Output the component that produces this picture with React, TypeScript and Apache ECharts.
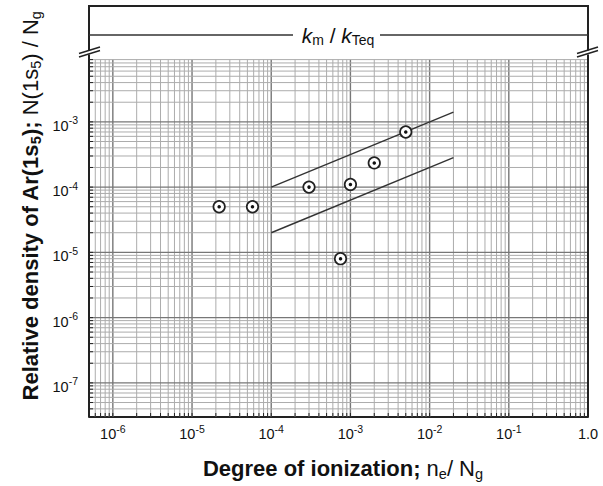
import { useEffect, useRef } from 'react';
import * as echarts from 'echarts';

const FONT = '"Liberation Sans", Arial, Helvetica, sans-serif';

// Axis ranges (log scales)
const xRange = [5e-7, 1];
const yRange = [3e-8, 9e-3];
const xDecades = [-7, -6, -5, -4, -3, -2, -1];
const yDecades = [-8, -7, -6, -5, -4, -3];
const multipliers = [1, 2, 3, 4, 5, 6, 7, 8, 9];

// Measured points: degree of ionization vs relative density of Ar(1s5)
const pointX = [2.2e-5, 5.8e-5, 3.0e-4, 1.0e-3, 2.0e-3, 5.0e-3, 7.5e-4];
const pointY = [5.0e-5, 5.0e-5, 1.0e-4, 1.1e-4, 2.35e-4, 7.0e-4, 8.0e-6];

// Boundary lines
const upperLineX = [1e-4, 2e-2];
const upperLineY = [1e-4, 1.41e-3];
const lowerLineX = [1e-4, 2e-2];
const lowerLineY = [2e-5, 2.83e-4];

const boxLabel = '{i|k}{s|m} / {i|k}{s|Teq}';
const xTitle = '{b|Degree of ionization;} n{s|e}/ N{s|g}';
const yTitle = '{b|Relative density of Ar(1s}{bs|5}{b|);} N(1s{s|5}) / N{s|g}';

function gridValues(decades: number[], range: number[], includeMax: boolean) {
  const out: number[][] = [];
  decades.forEach((d) => {
    multipliers.forEach((m) => {
      const v = m * Math.pow(10, d);
      const okMin = v > range[0] * 1.001;
      const okMax = includeMax ? v <= range[1] * 1.001 : v < range[1] * 0.999;
      if (okMin && okMax) out.push([v, m === 1 ? 1 : 0]);
    });
  });
  return out;
}

function powLabel(v: number) {
  const e = Math.log10(v);
  const r = Math.round(e);
  if (Math.abs(e - r) > 1e-6) return '';
  if (r === 0) return '{b|1.0}';
  return '{b|10}{sup|' + r + '}';
}

const MINOR = '#acacac';
const MAJOR = '#777777';
const FRAME = '#222';

export default function App() {
  const ref = useRef<HTMLDivElement>(null);
  useEffect(() => {
    if (!ref.current) return;
    const chart = echarts.init(ref.current, undefined, { renderer: 'svg' });
    const vLines = gridValues(xDecades, xRange, false).map((p) => [p[0], yRange[0], p[1]]);
    const hLines = gridValues(yDecades, yRange, true).map((p) => [xRange[0], p[0], p[1]]);

    const labelRich = {
      b: { fontSize: 14.5, lineHeight: 22, fontFamily: FONT, color: '#111' },
      sup: { fontSize: 10.5, lineHeight: 10, verticalAlign: 'top', fontFamily: FONT, color: '#111' },
    };

    const lineEl = (x1: number, y1: number, x2: number, y2: number, w = 2, c = FRAME) => ({
      type: 'line',
      z: 100,
      silent: true,
      shape: { x1, y1, x2, y2 },
      style: { stroke: c, lineWidth: w },
    });

    const option: any = {
      animation: false,
      backgroundColor: '#fff',
      grid: { left: 89, right: 15, top: 59.6, bottom: 69, containLabel: false, outerBoundsMode: 'none' },
      xAxis: {
        type: 'log',
        logBase: 10,
        min: xRange[0],
        max: xRange[1],
        splitLine: { show: false },
        minorSplitLine: { show: false },
        axisTick: { show: false },
        axisLine: { show: true, lineStyle: { color: FRAME, width: 2 } },
        axisLabel: {
          formatter: powLabel,
          rich: labelRich,
          fontSize: 14.5,
          lineHeight: 22,
          fontFamily: FONT,
          color: '#111',
          margin: 6,
          showMinLabel: true,
          showMaxLabel: true,
        },
      },
      yAxis: {
        type: 'log',
        logBase: 10,
        min: yRange[0],
        max: yRange[1],
        splitLine: { show: false },
        minorSplitLine: { show: false },
        axisTick: { show: false },
        axisLine: { show: false },
        axisLabel: {
          formatter: powLabel,
          rich: labelRich,
          fontSize: 14.5,
          lineHeight: 22,
          padding: [8, 0, 0, 0],
          fontFamily: FONT,
          color: '#111',
          margin: 11,
        },
      },
      series: [
        {
          type: 'custom',
          silent: true,
          z: 1,
          data: vLines,
          renderItem: (_p: any, api: any) => {
            const v = api.value(0);
            const major = api.value(2) === 1;
            const top = api.coord([v, yRange[1]]);
            const bot = api.coord([v, yRange[0]]);
            return {
              type: 'group',
              children: [
                {
                  type: 'line',
                  shape: { x1: top[0], y1: top[1], x2: bot[0], y2: bot[1] },
                  style: { stroke: major ? MAJOR : MINOR, lineWidth: major ? 1.4 : 1 },
                },
                {
                  type: 'line',
                  shape: { x1: bot[0], y1: bot[1], x2: bot[0], y2: bot[1] - 4 },
                  style: { stroke: FRAME, lineWidth: 1 },
                },
              ],
            };
          },
        },
        {
          type: 'custom',
          silent: true,
          z: 1,
          data: hLines,
          renderItem: (_p: any, api: any) => {
            const v = api.value(1);
            const major = api.value(2) === 1;
            const l = api.coord([xRange[0], v]);
            const r = api.coord([xRange[1], v]);
            return {
              type: 'group',
              children: [
                {
                  type: 'line',
                  shape: { x1: l[0], y1: l[1], x2: r[0], y2: r[1] },
                  style: { stroke: major ? MAJOR : MINOR, lineWidth: major ? 1.4 : 1 },
                },
                {
                  type: 'line',
                  shape: { x1: l[0], y1: l[1], x2: l[0] + 4, y2: l[1] },
                  style: { stroke: FRAME, lineWidth: 1 },
                },
              ],
            };
          },
        },
        {
          type: 'line',
          silent: true,
          z: 3,
          symbol: 'none',
          data: upperLineX.map((x, i) => [x, upperLineY[i]]),
          lineStyle: { color: '#333', width: 1.4 },
        },
        {
          type: 'line',
          silent: true,
          z: 3,
          symbol: 'none',
          data: lowerLineX.map((x, i) => [x, lowerLineY[i]]),
          lineStyle: { color: '#333', width: 1.4 },
        },
        {
          type: 'scatter',
          silent: true,
          z: 4,
          symbol: 'circle',
          symbolSize: 11.5,
          data: pointX.map((x, i) => [x, pointY[i]]),
          itemStyle: { color: '#fff', borderColor: '#222', borderWidth: 1.7, opacity: 1 },
        },
        {
          type: 'scatter',
          silent: true,
          z: 5,
          symbol: 'circle',
          symbolSize: 3.5,
          data: pointX.map((x, i) => [x, pointY[i]]),
          itemStyle: { color: '#111', opacity: 1 },
        },
      ],
      graphic: [
        lineEl(88, 6, 589, 6),
        lineEl(89, 6, 89, 50.5),
        lineEl(89, 54.5, 89, 417),
        lineEl(588, 6, 588, 50.5),
        lineEl(588, 54.5, 588, 417),
        lineEl(79, 53.5, 100, 47, 1.5),
        lineEl(79, 57, 100, 50.5, 1.5),
        lineEl(577, 53.5, 598, 47, 1.5),
        lineEl(577, 57, 598, 50.5, 1.5),
        lineEl(89, 35, 293, 35, 1.3, '#333'),
        lineEl(380, 35, 588, 35, 1.3, '#333'),
        {
          type: 'text',
          z: 100,
          x: 338,
          y: 35,
          style: {
            text: boxLabel,
            fontSize: 21,
            lineHeight: 24,
            fontFamily: FONT,
            fill: '#111',
            align: 'center',
            verticalAlign: 'middle',
            rich: {
              i: { fontSize: 21, lineHeight: 24, fontStyle: 'italic', fontFamily: FONT, color: '#111' },
              s: { fontSize: 14, lineHeight: 16, verticalAlign: 'bottom', fontFamily: FONT, color: '#111' },
            },
          },
        },
        {
          type: 'text',
          z: 100,
          x: 343,
          y: 468,
          style: {
            text: xTitle,
            fontSize: 22,
            lineHeight: 26,
            fontFamily: FONT,
            fill: '#111',
            align: 'center',
            verticalAlign: 'middle',
            rich: {
              b: { fontSize: 22, lineHeight: 26, fontWeight: 'bold', fontFamily: FONT, color: '#111' },
              s: { fontSize: 14.5, lineHeight: 16, verticalAlign: 'bottom', fontFamily: FONT, color: '#111' },
            },
          },
        },
        {
          type: 'text',
          z: 100,
          x: 30,
          y: 206,
          rotation: Math.PI / 2,
          style: {
            text: yTitle,
            fontSize: 22,
            lineHeight: 26,
            fontFamily: FONT,
            fill: '#111',
            align: 'center',
            verticalAlign: 'middle',
            rich: {
              b: { fontSize: 22, lineHeight: 26, fontWeight: 'bold', fontFamily: FONT, color: '#111' },
              bs: { fontSize: 14.5, lineHeight: 16, verticalAlign: 'bottom', fontWeight: 'bold', fontFamily: FONT, color: '#111' },
              s: { fontSize: 14.5, lineHeight: 16, verticalAlign: 'bottom', fontFamily: FONT, color: '#111' },
            },
          },
        },
      ],
    };
    chart.setOption(option);
    return () => chart.dispose();
  }, []);
  return (
    <div
      ref={ref}
      style={{ position: 'fixed', left: 0, top: 0, width: 603, height: 486, background: '#fff' }}
    />
  );
}
